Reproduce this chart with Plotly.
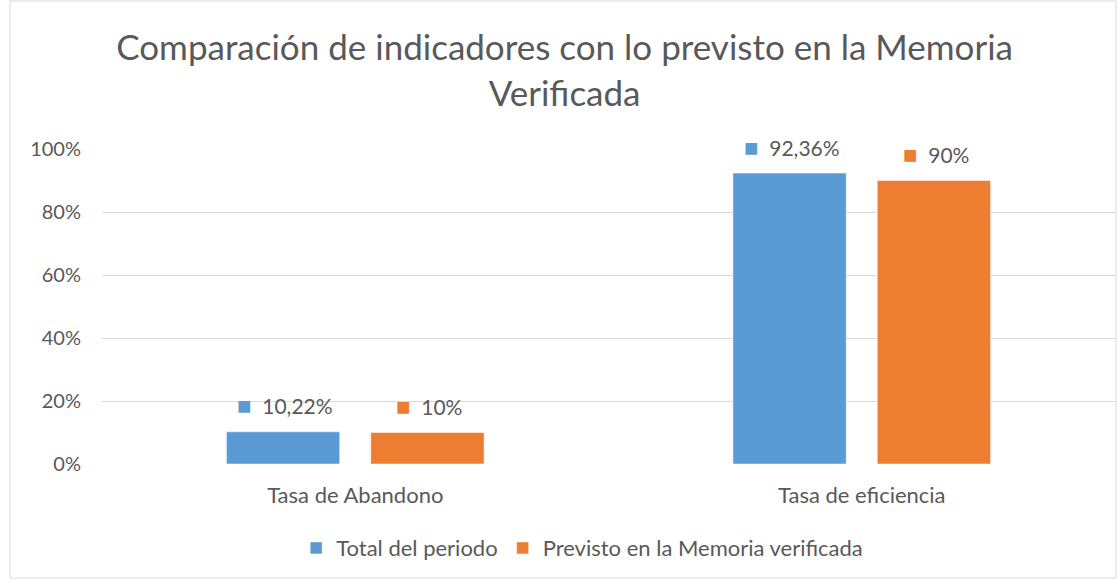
import plotly.graph_objects as go

categories = ["Tasa de Abandono", "Tasa de eficiencia"]
total_periodo = [0.1022, 0.9236]
previsto_memoria = [0.10, 0.90]
series_names = ["Total del periodo", "Previsto en la Memoria verificada"]
colors = ["#5B9BD5", "#ED7D31"]

FONT = "Lato, Carlito, Calibri, sans-serif"
GREY = "#595959"


def fmt_pct(v):
    p = round(v * 100, 2)
    s = f"{p:.0f}" if p == int(p) else f"{p:.2f}"
    return s.replace(".", ",") + "%"


fig = go.Figure()
for name, vals, col in zip(series_names, [total_periodo, previsto_memoria], colors):
    fig.add_trace(go.Bar(x=categories, y=vals, name=name,
                         marker=dict(color=col, line=dict(color="white", width=0.5))))

# data labels with a colored square, like Excel's "legend key" labels
for i, (vals, col) in enumerate(zip([total_periodo, previsto_memoria], colors)):
    shift = -70 if i == 0 else 74
    for cat, v in zip(categories, vals):
        fig.add_annotation(x=cat, y=v, xref="x", yref="y", xshift=shift, yshift=27,
                           text=f"<span style='color:{col};font-size:24px'>■</span>&nbsp;&nbsp;{fmt_pct(v)}",
                           showarrow=False, font=dict(size=21, color=GREY, family=FONT))

# chart border
fig.add_shape(type="rect", xref="paper", yref="paper",
              x0=-0.0908, x1=1.001, y0=-0.362, y1=1.47,
              line=dict(color="#D9D9D9", width=1), fillcolor="rgba(0,0,0,0)")

fig.update_layout(
    width=1118, height=580,
    margin=dict(l=102, r=3, t=149, b=116, autoexpand=False),
    paper_bgcolor="white", plot_bgcolor="white",
    font=dict(family=FONT, color=GREY, size=22),
    title=dict(text="Comparación de indicadores con lo previsto en la Memoria<br>Verificada",
               x=0.505, xanchor="center", y=0.896, yanchor="middle",
               font=dict(size=35, color=GREY, family=FONT)),
    barmode="group", bargap=0.43, bargroupgap=0.215,
    legend=dict(orientation="h", x=0.474, xanchor="center", y=-0.267, yanchor="middle",
                font=dict(size=22, color=GREY), itemwidth=30, traceorder="normal"),
    showlegend=True,
)
fig.update_yaxes(range=[0, 1.0], tickvals=[0, 0.2, 0.4, 0.6, 0.8, 1.0], tickformat=".0%",
                 showgrid=True, gridcolor="#D9D9D9", gridwidth=1, zeroline=False,
                 showline=False, ticklabelstandoff=20, automargin=False,
                 tickfont=dict(size=20, color=GREY))
fig.update_xaxes(showgrid=False, showline=False, ticklabelstandoff=16, automargin=False,
                 tickfont=dict(size=22, color=GREY))

fig.write_html("out.html", config={"displayModeBar": False},
               post_script="document.body.style.margin='0';")
